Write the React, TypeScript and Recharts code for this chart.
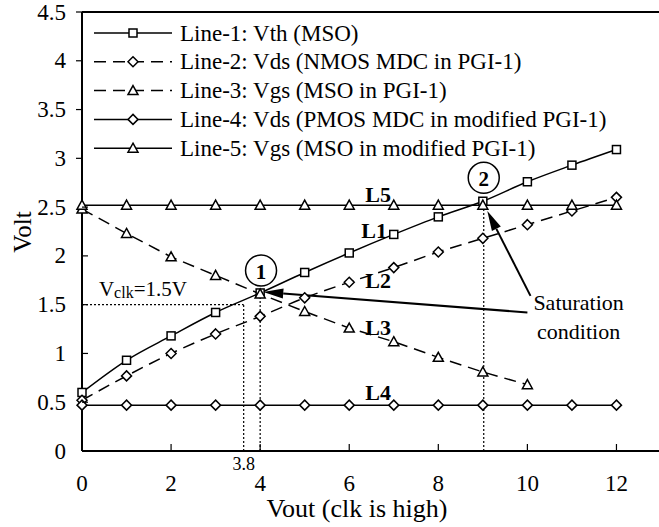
import React from 'react';
import {
  LineChart,
  Line,
  XAxis,
  YAxis,
  Legend,
  ReferenceLine,
  ReferenceDot,
} from 'recharts';

const vout = [0, 1, 2, 3, 4, 5, 6, 7, 8, 9, 10, 11, 12];
const vthMso = [0.6, 0.93, 1.18, 1.42, 1.62, 1.83, 2.03, 2.22, 2.4, 2.56, 2.76, 2.93, 3.09];
const vdsNmosPgi = [0.52, 0.77, 1.0, 1.2, 1.38, 1.57, 1.73, 1.88, 2.04, 2.18, 2.32, 2.46, 2.6];
const vgsMsoPgi = [2.48, 2.23, 1.99, 1.8, 1.61, 1.43, 1.26, 1.12, 0.96, 0.81, 0.68];
const vdsPmosMod = [0.47, 0.47, 0.47, 0.47, 0.47, 0.47, 0.47, 0.47, 0.47, 0.47, 0.47, 0.47, 0.47];
const vgsMsoMod = [2.52, 2.52, 2.52, 2.52, 2.52, 2.52, 2.52, 2.52, 2.52, 2.52, 2.52, 2.52, 2.52];

const xTicks = [0, 2, 4, 6, 8, 10, 12];
const yTicks = [0, 0.5, 1, 1.5, 2, 2.5, 3, 3.5, 4, 4.5];

const legendNames = [
  'Line-1: Vth (MSO)',
  'Line-2: Vds (NMOS MDC in PGI-1)',
  'Line-3: Vgs (MSO in PGI-1)',
  'Line-4: Vds (PMOS MDC in modified PGI-1)',
  'Line-5: Vgs (MSO in modified PGI-1)',
];

// annotation anchors, in data units
const vclkLevel = 1.5;
const vclkX = 3.63;
const point1 = { x: 4, y: 1.62 };
const point2 = { x: 9.02, y: 2.52 };
const circle1 = { x: 4.02, y: 1.85 };
const circle2 = { x: 9.02, y: 2.8 };
const lineLabels = [
  { text: 'L5', x: 6.65, y: 2.63 },
  { text: 'L1', x: 6.56, y: 2.26 },
  { text: 'L2', x: 6.65, y: 1.75 },
  { text: 'L3', x: 6.65, y: 1.27 },
  { text: 'L4', x: 6.65, y: 0.6 },
];

const data = vout.map((x, i) => ({
  x,
  l1: vthMso[i],
  l2: vdsNmosPgi[i],
  l3: i < vgsMsoPgi.length ? vgsMsoPgi[i] : null,
  l4: vdsPmosMod[i],
  l5: vgsMsoMod[i],
}));

const FONT = "'Liberation Serif', 'Times New Roman', serif";

type Shape = 'square' | 'diamond' | 'triangle';

function Marker({ shape, cx, cy }: { shape: Shape; cx: number; cy: number }) {
  const common = { fill: '#fff', stroke: '#000', strokeWidth: 1.5 };
  if (shape === 'square') return <rect x={cx - 4} y={cy - 4} width={8} height={8} {...common} />;
  if (shape === 'diamond')
    return <polygon points={`${cx},${cy - 5} ${cx + 5},${cy} ${cx},${cy + 5} ${cx - 5},${cy}`} {...common} />;
  return <polygon points={`${cx},${cy - 5} ${cx + 5},${cy + 4} ${cx - 5},${cy + 4}`} {...common} />;
}

const dotFor = (shape: Shape) => (p: any) => {
  if (p.cy == null || p.value == null) return <g key={p.index} />;
  return (
    <g key={p.index}>
      <Marker shape={shape} cx={p.cx} cy={p.cy} />
    </g>
  );
};

const series: { key: string; shape: Shape; dash?: string }[] = [
  { key: 'l1', shape: 'square' },
  { key: 'l2', shape: 'diamond', dash: '12 7' },
  { key: 'l3', shape: 'triangle', dash: '12 7' },
  { key: 'l4', shape: 'diamond' },
  { key: 'l5', shape: 'triangle' },
];

function LegendBox() {
  return (
    <svg width={520} height={150}>
      {series.map((s, i) => {
        const y = 15 + i * 28.8;
        return (
          <g key={s.key}>
            <line x1={0} x2={78} y1={y} y2={y} stroke="#000" strokeWidth={1.5} strokeDasharray={s.dash} />
            <Marker shape={s.shape} cx={39} cy={y} />
            <text x={86} y={y} dominantBaseline="central" fontFamily={FONT} fontSize={23} fill="#000">
              {legendNames[i]}
            </text>
          </g>
        );
      })}
    </svg>
  );
}

const XTick = (p: any) => {
  const axisY = p.y - 20;
  return (
    <g>
      <line x1={p.x} x2={p.x} y1={axisY} y2={axisY - 7} stroke="#000" strokeWidth={1.2} />
      <text x={p.x} y={p.y + 12} textAnchor="middle" dominantBaseline="central" fontFamily={FONT} fontSize={23} fill="#000">
        {p.payload.value}
      </text>
    </g>
  );
};

const YTick = (p: any) => {
  const axisX = p.x + 16;
  const v = p.payload.value;
  const outward = v >= 3;
  return (
    <g>
      <line x1={axisX} x2={outward ? axisX - 6 : axisX + 6} y1={p.y} y2={p.y} stroke="#000" strokeWidth={1.2} />
      <text x={p.x} y={p.y} textAnchor="end" dominantBaseline="central" fontFamily={FONT} fontSize={23} fill="#000">
        {v}
      </text>
    </g>
  );
};

const arrowShape = (p: any) => {
  const { x1, y1, x2, y2 } = p;
  const dx = x2 - x1;
  const dy = y2 - y1;
  const len = Math.sqrt(dx * dx + dy * dy);
  const ux = dx / len;
  const uy = dy / len;
  const bx = x2 - ux * 20;
  const by = y2 - uy * 20;
  const nx = -uy * 5;
  const ny = ux * 5;
  return (
    <g>
      <line x1={x1} y1={y1} x2={bx} y2={by} stroke="#000" strokeWidth={2} />
      <polygon points={`${x2},${y2} ${bx + nx},${by + ny} ${bx - nx},${by - ny}`} fill="#000" />
    </g>
  );
};

const textShape = (text: string, opts: { bold?: boolean; size?: number } = {}) => (p: any) => (
  <text
    x={p.cx}
    y={p.cy}
    textAnchor="middle"
    dominantBaseline="central"
    fontFamily={FONT}
    fontSize={opts.size ?? 22}
    fontWeight={opts.bold ? 'bold' : 'normal'}
    fill="#000"
  >
    {text}
  </text>
);

const circleShape = (text: string) => (p: any) => (
  <g>
    <circle cx={p.cx} cy={p.cy} r={15.5} fill="#fff" stroke="#000" strokeWidth={1.5} />
    <text x={p.cx} y={p.cy + 1} textAnchor="middle" dominantBaseline="central" fontFamily={FONT} fontSize={21} fontWeight="bold" fill="#000">
      {text}
    </text>
  </g>
);

const vclkShape = (p: any) => (
  <text x={p.cx} y={p.cy} dominantBaseline="central" fontFamily={FONT} fontSize={21} fill="#000">
    <tspan>V</tspan>
    <tspan fontSize={16} dy={3}>clk</tspan>
    <tspan dy={-3}>=1.5V</tspan>
  </text>
);

const dotted = { stroke: '#000', strokeWidth: 1.2, strokeDasharray: '2 2' };

export default function App() {
  return (
    <div style={{ position: 'absolute', left: 0, top: 0, width: 659, height: 527, overflow: 'hidden', background: '#fff' }}>
      <LineChart width={661} height={527} data={data} margin={{ top: 12, right: 0, left: 0, bottom: 0 }}>
        <XAxis
          dataKey="x"
          type="number"
          domain={[0, 13]}
          ticks={xTicks}
          tickSize={0}
          tickMargin={20}
          tick={<XTick />}
          height={76}
          axisLine={{ stroke: '#000', strokeWidth: 2 }}
          tickLine={false}
          label={(props: any) => {
            const vb = props.viewBox;
            return (
              <text x={vb.x + 275} y={vb.y + 57} textAnchor="middle" dominantBaseline="central" fontFamily={FONT} fontSize={26} fill="#000">
                Vout (clk is high)
              </text>
            );
          }}
        />
        <YAxis
          type="number"
          domain={[0, 4.5]}
          ticks={yTicks}
          tickSize={0}
          tickMargin={16}
          tick={<YTick />}
          width={82}
          axisLine={{ stroke: '#000', strokeWidth: 2 }}
          tickLine={false}
          label={(props: any) => {
            const vb = props.viewBox;
            const cx = 22;
            const cy = vb.y + 220;
            return (
              <text x={cx} y={cy} transform={`rotate(-90 ${cx} ${cy})`} textAnchor="middle" dominantBaseline="central" fontFamily={FONT} fontSize={25} fill="#000">
                Volt
              </text>
            );
          }}
        />
        <ReferenceLine y={4.5} stroke="#000" strokeWidth={2} />

        <ReferenceLine segment={[{ x: 0, y: vclkLevel }, { x: vclkX, y: vclkLevel }]} {...dotted} />
        <ReferenceLine segment={[{ x: vclkX, y: 0 }, { x: vclkX, y: vclkLevel }]} {...dotted} />
        <ReferenceLine segment={[{ x: point1.x, y: 0 }, { x: point1.x, y: point1.y }]} {...dotted} />
        <ReferenceLine segment={[{ x: point2.x, y: 0 }, { x: point2.x, y: point2.y }]} {...dotted} />

        {series.map((s) => (
          <Line
            key={s.key}
            dataKey={s.key}
            type={s.key === 'l1' || s.key === 'l2' ? 'monotone' : 'linear'}
            stroke="#000"
            strokeWidth={1.5}
            strokeDasharray={s.dash}
            dot={dotFor(s.shape)}
            activeDot={false}
            isAnimationActive={false}
          />
        ))}

        <ReferenceLine segment={[{ x: 10.0, y: 1.42 }, { x: 4.07, y: 1.63 }]} shape={arrowShape} />
        <ReferenceLine segment={[{ x: 10.07, y: 1.59 }, { x: 9.1, y: 2.46 }]} shape={arrowShape} />

        <ReferenceDot x={circle1.x} y={circle1.y} r={15} shape={circleShape('1')} />
        <ReferenceDot x={circle2.x} y={circle2.y} r={15} shape={circleShape('2')} />

        {lineLabels.map((l) => (
          <ReferenceDot key={l.text} x={l.x} y={l.y} r={0} shape={textShape(l.text, { bold: true, size: 22 })} />
        ))}
        <ReferenceDot x={11.15} y={1.52} r={0} shape={textShape('Saturation')} />
        <ReferenceDot x={11.15} y={1.22} r={0} shape={textShape('condition')} />
        <ReferenceDot x={0.38} y={1.66} r={0} shape={vclkShape} />
        <ReferenceDot x={vclkX} y={-0.13} r={0} ifOverflow="visible" shape={textShape('3.8', { size: 18 })} />

        <Legend
          layout="vertical"
          align="center"
          verticalAlign="middle"
          content={() => <LegendBox />}
          wrapperStyle={{ top: 18, left: 94, width: 520, height: 150 }}
        />
      </LineChart>
    </div>
  );
}
